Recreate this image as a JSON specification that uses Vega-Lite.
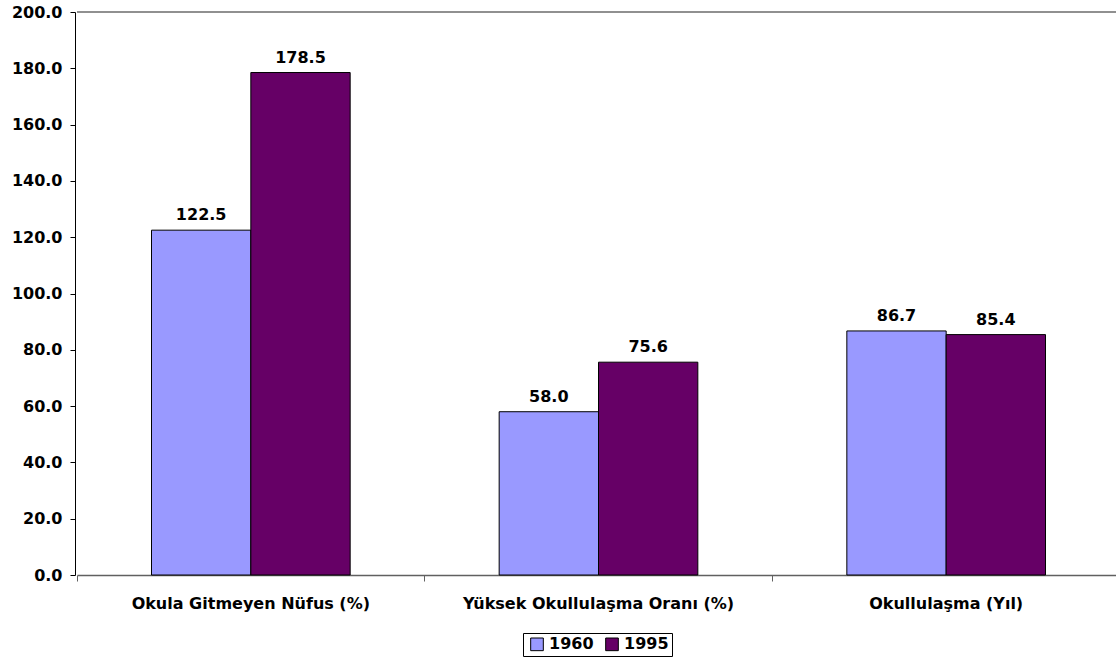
{
  "$schema": "https://vega.github.io/schema/vega-lite/v6.json",
  "width": 1043,
  "height": 563,
  "autosize": "none",
  "padding": {"left": 77, "top": 12, "right": 0, "bottom": 89},
  "background": "white",
  "config": {
    "view": {"stroke": null},
    "font": "DejaVu Sans"
  },
  "data": {
    "values": [
      {"cat": "Okula Gitmeyen Nüfus (%)", "year": "1960", "value": 122.5},
      {"cat": "Okula Gitmeyen Nüfus (%)", "year": "1995", "value": 178.5},
      {"cat": "Yüksek Okullulaşma Oranı (%)", "year": "1960", "value": 58.0},
      {"cat": "Yüksek Okullulaşma Oranı (%)", "year": "1995", "value": 75.6},
      {"cat": "Okullulaşma (Yıl)", "year": "1960", "value": 86.7},
      {"cat": "Okullulaşma (Yıl)", "year": "1995", "value": 85.4}
    ]
  },
  "encoding": {
    "x": {
      "field": "cat", "type": "nominal", "sort": null,
      "scale": {"paddingInner": 0, "paddingOuter": 0},
      "axis": {
        "title": null, "labelAngle": 0, "bandPosition": 0, "labelLimit": 0,
        "labelFont": "DejaVu Sans", "labelFontWeight": "bold", "labelFontSize": 16, "labelColor": "black",
        "labelPadding": 14, "tickSize": 6, "tickColor": "#606060", "domainColor": "#606060", "domainWidth": 1.5,
        "grid": false
      }
    },
    "xOffset": {"field": "year", "type": "nominal", "scale": {"paddingOuter": 0.75, "paddingInner": 0}},
    "y": {
      "field": "value", "type": "quantitative",
      "scale": {"domain": [0, 200], "nice": false},
      "axis": {
        "title": null, "values": [0, 20, 40, 60, 80, 100, 120, 140, 160, 180, 200], "format": ".1f",
        "labelFont": "DejaVu Sans", "labelFontWeight": "bold", "labelFontSize": 16, "labelColor": "black",
        "labelPadding": 8, "tickSize": 5, "tickColor": "black", "domainColor": "black", "grid": false,
        "offset": 2
      }
    }
  },
  "layer": [
    {
      "mark": {"type": "rule", "color": "#909090", "strokeWidth": 1.5},
      "encoding": {"y": {"datum": 200}, "x": null, "xOffset": null}
    },
    {
      "mark": {"type": "bar", "stroke": "black", "strokeWidth": 1},
      "encoding": {
        "color": {
          "field": "year", "type": "nominal",
          "scale": {"domain": ["1960", "1995"], "range": ["#9999FF", "#660066"]},
          "legend": {
            "title": null, "orient": "none", "legendX": 446, "legendY": 621, "direction": "horizontal",
            "symbolType": "square", "symbolSize": 160, "symbolStrokeColor": "black", "symbolStrokeWidth": 1,
            "symbolOffset": 3,
            "labelFont": "DejaVu Sans", "labelFontWeight": "bold", "labelFontSize": 16, "labelColor": "black",
            "strokeColor": "black", "padding": 3, "columnPadding": 7, "labelOffset": 4
          }
        }
      }
    },
    {
      "mark": {"type": "text", "dy": -10, "baseline": "alphabetic", "font": "DejaVu Sans", "fontWeight": "bold", "fontSize": 16, "color": "black"},
      "encoding": {"text": {"field": "value", "type": "quantitative", "format": ".1f"}}
    }
  ]
}
